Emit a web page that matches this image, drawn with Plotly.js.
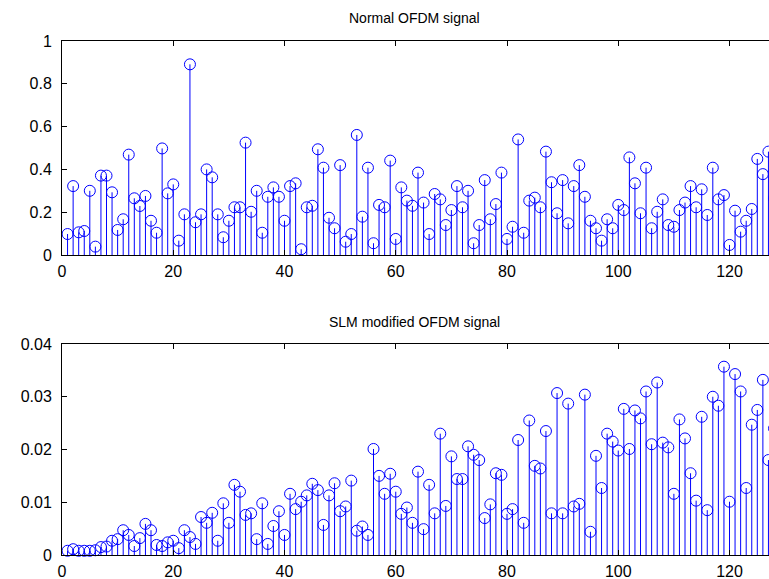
<!DOCTYPE html>
<html><head><meta charset="utf-8">
<script src="https://cdn.plot.ly/plotly-3.0.1.min.js"></script>
<style>html,body{margin:0;padding:0;overflow:hidden;background:#fff}#chart{width:776px;height:579px}</style>
</head><body><div id="chart"></div>
<script>
// sample index n = 1..128
const sampleIndex = Array.from({length: 128}, (_, i) => i + 1);

const normalSignal = [
  0.098, 0.322, 0.106, 0.112, 0.300, 0.039, 0.371, 0.371, 0.293, 0.117,
  0.167, 0.469, 0.265, 0.229, 0.276, 0.160, 0.104, 0.498, 0.288, 0.330,
  0.067, 0.190, 0.891, 0.153, 0.190, 0.400, 0.363, 0.190, 0.083, 0.160,
  0.223, 0.223, 0.525, 0.202, 0.300, 0.104, 0.272, 0.316, 0.272, 0.160,
  0.322, 0.335, 0.027, 0.223, 0.230, 0.494, 0.408, 0.174, 0.125, 0.420,
  0.062, 0.098, 0.561, 0.179, 0.408, 0.055, 0.234, 0.223, 0.441, 0.075,
  0.316, 0.254, 0.230, 0.385, 0.245, 0.098, 0.285, 0.260, 0.140, 0.210,
  0.322, 0.223, 0.300, 0.055, 0.140, 0.350, 0.167, 0.238, 0.385, 0.075,
  0.132, 0.540, 0.104, 0.254, 0.268, 0.223, 0.483, 0.340, 0.195, 0.350,
  0.148, 0.322, 0.420, 0.272, 0.160, 0.125, 0.067, 0.167, 0.125, 0.234,
  0.210, 0.456, 0.335, 0.195, 0.408, 0.125, 0.202, 0.260, 0.140, 0.132,
  0.210, 0.245, 0.322, 0.223, 0.307, 0.187, 0.408, 0.260, 0.280, 0.047,
  0.207, 0.109, 0.160, 0.215, 0.449, 0.378, 0.483, 0.265
];

const slmSignal = [
  0.0008, 0.0011, 0.0008, 0.0008, 0.0008, 0.0009, 0.0015, 0.0016, 0.0027, 0.0030,
  0.0047, 0.0038, 0.0017, 0.0032, 0.0059, 0.0047, 0.0019, 0.0017, 0.0024, 0.0027,
  0.0013, 0.0047, 0.0034, 0.0021, 0.0072, 0.0061, 0.0080, 0.0027, 0.0098, 0.0061,
  0.0133, 0.0120, 0.0076, 0.0079, 0.0030, 0.0098, 0.0021, 0.0055, 0.0083, 0.0038,
  0.0116, 0.0087, 0.0101, 0.0113, 0.0135, 0.0123, 0.0057, 0.0113, 0.0136, 0.0083,
  0.0092, 0.0141, 0.0046, 0.0054, 0.0038, 0.0201, 0.0150, 0.0116, 0.0154, 0.0120,
  0.0078, 0.0090, 0.0061, 0.0158, 0.0049, 0.0133, 0.0079, 0.0230, 0.0093, 0.0187,
  0.0144, 0.0144, 0.0206, 0.0190, 0.0180, 0.0070, 0.0096, 0.0155, 0.0152, 0.0078,
  0.0087, 0.0218, 0.0061, 0.0255, 0.0169, 0.0164, 0.0235, 0.0079, 0.0307, 0.0079,
  0.0287, 0.0092, 0.0097, 0.0304, 0.0044, 0.0188, 0.0127, 0.0230, 0.0215, 0.0198,
  0.0277, 0.0201, 0.0274, 0.0259, 0.0310, 0.0210, 0.0327, 0.0213, 0.0204, 0.0116,
  0.0257, 0.0221, 0.0155, 0.0103, 0.0262, 0.0085, 0.0300, 0.0283, 0.0357, 0.0101,
  0.0343, 0.0310, 0.0127, 0.0247, 0.0275, 0.0332, 0.0180, 0.0240
];

const xTickVals = [0, 20, 40, 60, 80, 100, 120];
const yTopTicks = [0, 0.2, 0.4, 0.6, 0.8, 1];
const yBotTicks = [0, 0.01, 0.02, 0.03, 0.04];
const titles = ['Normal OFDM signal', 'SLM modified OFDM signal'];

const BLUE = '#0000ff';
const FONT = 'Liberation Sans, Arial, Helvetica, sans-serif';

function stemTraces(x, y, xa, ya) {
  const sx = [], sy = [];
  x.forEach((v, i) => { sx.push(v, v, null); sy.push(0, y[i], null); });
  return [
    {x: sx, y: sy, xaxis: xa, yaxis: ya, type: 'scatter', mode: 'lines',
     line: {color: BLUE, width: 1}, hoverinfo: 'skip', showlegend: false},
    {x: x, y: y, xaxis: xa, yaxis: ya, type: 'scatter', mode: 'markers',
     marker: {symbol: 'circle-open', size: 11, color: BLUE, line: {width: 1, color: BLUE}},
     cliponaxis: false, showlegend: false}
  ];
}

const data = [
  ...stemTraces(sampleIndex, normalSignal, 'x', 'y'),
  ...stemTraces(sampleIndex, slmSignal, 'x2', 'y2')
];

const axisCommon = {
  showline: true, mirror: 'ticks', linecolor: '#000', linewidth: 1,
  ticks: 'inside', ticklen: 5, tickcolor: '#000', tickwidth: 1,
  showgrid: false, zeroline: false,
  tickfont: {family: FONT, size: 16, color: '#000'}
};
const xAxisExtra = {domain: [0, 1], range: [0, 128], tickmode: 'array', tickvals: xTickVals, ticklabelstandoff: 2};

const H = 579;
const layout = {
  width: 776, height: H,
  margin: {l: 62, r: 2, t: 0, b: 0},
  paper_bgcolor: '#fff', plot_bgcolor: '#fff',
  font: {family: FONT, color: '#000'},
  showlegend: false,
  xaxis: Object.assign({}, axisCommon, xAxisExtra, {anchor: 'y'}),
  yaxis: Object.assign({}, axisCommon, {domain: [1 - 255 / H, 1 - 41 / H], range: [0, 1], tickmode: 'array', tickvals: yTopTicks, anchor: 'x', ticklabelstandoff: 6}),
  xaxis2: Object.assign({}, axisCommon, xAxisExtra, {anchor: 'y2'}),
  yaxis2: Object.assign({}, axisCommon, {domain: [1 - 555 / H, 1 - 344 / H], range: [0, 0.04], tickmode: 'array', tickvals: yBotTicks, anchor: 'x2', ticklabelstandoff: 6}),
  annotations: [
    {text: titles[0], xref: 'paper', yref: 'paper', x: (414 - 62) / 712, y: 1 - 18 / H,
     xanchor: 'center', yanchor: 'middle', showarrow: false, font: {family: FONT, size: 14, color: '#000'}},
    {text: titles[1], xref: 'paper', yref: 'paper', x: (414 - 62) / 712, y: 1 - 322 / H,
     xanchor: 'center', yanchor: 'middle', showarrow: false, font: {family: FONT, size: 14, color: '#000'}}
  ]
};

Plotly.newPlot('chart', data, layout, {displayModeBar: false, staticPlot: true});
</script>
</body></html>
